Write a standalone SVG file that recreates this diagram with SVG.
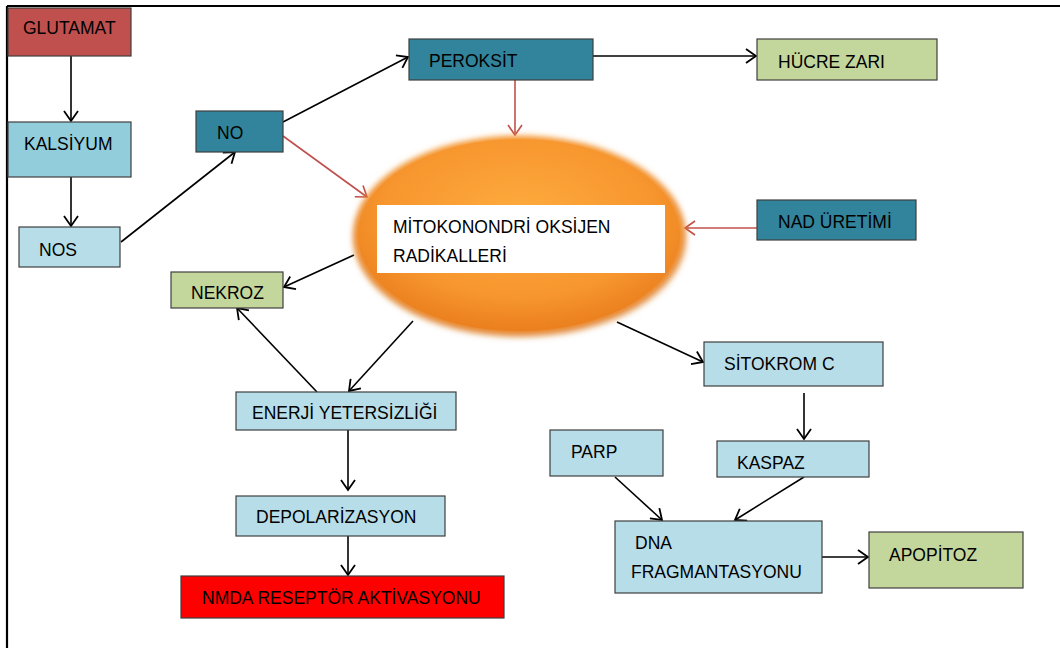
<svg xmlns="http://www.w3.org/2000/svg" width="1060" height="648" viewBox="0 0 1060 648">
<defs>
<style>
.box{stroke:#3f3f3f;stroke-width:1.2}
.t{font-family:"Liberation Sans",Arial,sans-serif;font-size:17.5px;fill:#000}
.c{fill:none;stroke:#000;stroke-width:1.6}
.r{fill:none;stroke:#c0504d;stroke-width:1.6}
</style>
<marker id="ab" markerUnits="userSpaceOnUse" markerWidth="14" markerHeight="16" refX="11" refY="8" orient="auto">
<path d="M1,1 L11,8 L1,15" fill="none" stroke="#000" stroke-width="1.8"/>
</marker>
<marker id="ar" markerUnits="userSpaceOnUse" markerWidth="14" markerHeight="16" refX="11" refY="8" orient="auto">
<path d="M1,1 L11,8 L1,15" fill="none" stroke="#c0504d" stroke-width="1.6"/>
</marker>
<radialGradient id="og" cx="0.5" cy="0.4" r="0.6">
<stop offset="0" stop-color="#fdab3e"/>
<stop offset="0.7" stop-color="#f7962e"/>
<stop offset="1" stop-color="#ea7f1e"/>
</radialGradient>
<filter id="soft" x="-10%" y="-10%" width="120%" height="130%">
<feGaussianBlur stdDeviation="3"/>
</filter>
</defs>
<rect width="1060" height="648" fill="#fff"/>
<g id="frame">
<line x1="7" y1="6" x2="1060" y2="6" stroke="#000" stroke-width="2.2"/>
<line x1="7" y1="6" x2="7" y2="648" stroke="#000" stroke-width="2.2"/>
</g>
<g id="connectors">
<line class="c" x1="71" y1="56" x2="71" y2="121" marker-end="url(#ab)"/>
<line class="c" x1="71" y1="177" x2="71" y2="226" marker-end="url(#ab)"/>
<line class="c" x1="121" y1="242" x2="235" y2="152" marker-end="url(#ab)"/>
<line class="c" x1="283" y1="122" x2="408" y2="57" marker-end="url(#ab)"/>
<line class="r" x1="283" y1="136" x2="367" y2="197" marker-end="url(#ar)"/>
<line class="r" x1="515" y1="80" x2="515" y2="135" marker-end="url(#ar)"/>
<line class="c" x1="593" y1="56" x2="756" y2="56" marker-end="url(#ab)"/>
<line class="r" x1="757" y1="228" x2="685" y2="228" marker-end="url(#ar)"/>
<line class="c" x1="354" y1="255" x2="284" y2="287" marker-end="url(#ab)"/>
<line class="c" x1="317" y1="392" x2="237" y2="308" marker-end="url(#ab)"/>
<line class="c" x1="413" y1="321" x2="349" y2="391" marker-end="url(#ab)"/>
<line class="c" x1="348" y1="430" x2="348" y2="490" marker-end="url(#ab)"/>
<line class="c" x1="348" y1="536" x2="348" y2="575" marker-end="url(#ab)"/>
<line class="c" x1="617" y1="322" x2="703" y2="362" marker-end="url(#ab)"/>
<line class="c" x1="804" y1="393" x2="804" y2="439" marker-end="url(#ab)"/>
<line class="c" x1="615" y1="477" x2="662" y2="520" marker-end="url(#ab)"/>
<line class="c" x1="804" y1="477" x2="735" y2="520" marker-end="url(#ab)"/>
<line class="c" x1="822" y1="557" x2="868" y2="557" marker-end="url(#ab)"/>
</g>
<g id="glutamat"><rect class="box" x="8" y="8" width="123" height="48" fill="#c0504d"/><text class="t" x="23" y="34">GLUTAMAT</text></g>
<g id="kalsiyum"><rect class="box" x="8" y="122" width="123" height="55" fill="#92cddc"/><text class="t" x="24" y="150">KALSİYUM</text></g>
<g id="nos"><rect class="box" x="19" y="227" width="101" height="40" fill="#b7dde8"/><text class="t" x="39" y="256">NOS</text></g>
<g id="no"><rect class="box" x="196" y="111" width="87" height="41" fill="#31849b"/><text class="t" x="217" y="139">NO</text></g>
<g id="peroksit"><rect class="box" x="409" y="39" width="184" height="41" fill="#31849b"/><text class="t" x="429" y="67">PEROKSİT</text></g>
<g id="hucre-zari"><rect class="box" x="757" y="39" width="180" height="41" fill="#c3d69b"/><text class="t" x="778" y="68">HÜCRE ZARI</text></g>
<g id="nad-uretimi"><rect class="box" x="757" y="200" width="159" height="40" fill="#31849b"/><text class="t" x="778" y="228">NAD ÜRETİMİ</text></g>
<g id="mitokondri">
<ellipse cx="520" cy="238" rx="166" ry="99" fill="#c9660f" opacity="0.5" filter="url(#soft)"/>
<ellipse cx="519" cy="235" rx="165" ry="99" fill="url(#og)" filter="url(#soft)"/>
<ellipse cx="519" cy="235" rx="161" ry="96" fill="url(#og)"/>
<rect x="377" y="205" width="288" height="68" fill="#fff"/>
<text class="t" x="393" y="233">MİTOKONONDRİ OKSİJEN</text>
<text class="t" x="393" y="262">RADİKALLERİ</text>
</g>
<g id="nekroz"><rect class="box" x="171" y="272" width="112" height="36" fill="#c3d69b"/><text class="t" x="191" y="299">NEKROZ</text></g>
<g id="enerji"><rect class="box" x="236" y="392" width="220" height="38" fill="#b7dde8"/><text class="t" x="252" y="419">ENERJİ YETERSİZLİĞİ</text></g>
<g id="depolarizasyon"><rect class="box" x="236" y="496" width="209" height="40" fill="#b7dde8"/><text class="t" x="256" y="523">DEPOLARİZASYON</text></g>
<g id="nmda"><rect class="box" x="181" y="576" width="323" height="42" fill="#ff0000"/><text class="t" x="202" y="604">NMDA RESEPTÖR AKTİVASYONU</text></g>
<g id="sitokrom"><rect class="box" x="704" y="342" width="179" height="44" fill="#b7dde8"/><text class="t" x="724" y="370">SİTOKROM C</text></g>
<g id="kaspaz"><rect class="box" x="717" y="441" width="152" height="36" fill="#b7dde8"/><text class="t" x="737" y="469">KASPAZ</text></g>
<g id="parp"><rect class="box" x="550" y="430" width="113" height="46" fill="#b7dde8"/><text class="t" x="571" y="458">PARP</text></g>
<g id="dna"><rect class="box" x="615" y="521" width="207" height="72" fill="#b7dde8"/><text class="t" x="635" y="549">DNA</text><text class="t" x="631" y="578">FRAGMANTASYONU</text></g>
<g id="apopitoz"><rect class="box" x="869" y="532" width="154" height="56" fill="#c3d69b"/><text class="t" x="889" y="561">APOPİTOZ</text></g>
</svg>
